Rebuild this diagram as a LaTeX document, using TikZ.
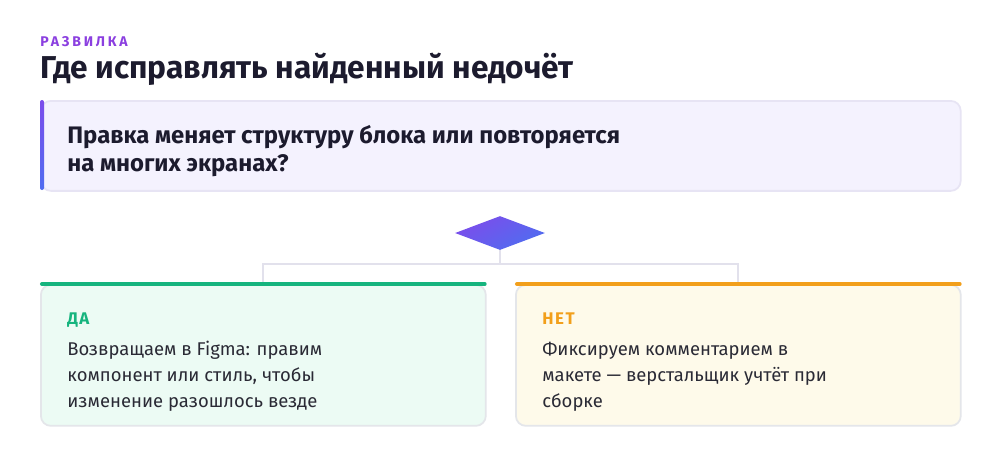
\documentclass[tikz,border=0pt]{standalone}
\usepackage{fontspec}
\setmainfont{Fira Sans}
\usetikzlibrary{calc,positioning,shapes.geometric,shadings}
\definecolor{kickc}{HTML}{8B3FE0}
\definecolor{inkc}{HTML}{1C1B2E}
\definecolor{bodyc}{HTML}{2A2A35}
\definecolor{qfillc}{HTML}{F4F2FE}
\definecolor{qlinec}{HTML}{E7E4F4}
\definecolor{topc}{HTML}{7C4DEB}
\definecolor{botc}{HTML}{4F6DF0}
\definecolor{yesc}{HTML}{16B47E}
\definecolor{yesfillc}{HTML}{ECFBF4}
\definecolor{noc}{HTML}{F29F1B}
\definecolor{nofillc}{HTML}{FEFAEA}
\definecolor{cardlinec}{HTML}{E4E6EA}
\definecolor{wirec}{HTML}{E2E1EC}
\tikzset{
	card/.style={draw=cardlinec, line width=1pt, rounded corners=0.2cm, anchor=north west, minimum width=8.9cm, minimum height=2.82cm, inner sep=0},
	tag/.style={anchor=base west, inner sep=0, font=\bfseries\fontsize{9.6}{11}\selectfont\addfontfeatures{LetterSpace=9}},
	body/.style={anchor=base west, inner sep=0, align=left, text=bodyc, font=\fontsize{10.5}{14.6}\selectfont},
	wire/.style={draw=wirec, line width=1.1pt},
	stripe/.style={line width=2.3pt, line cap=round, shorten <=0.04cm, shorten >=0.04cm}
}
\begin{document}
\begin{tikzpicture}[x=0.02cm,y=-0.02cm]
	\useasboundingbox (0,0) rectangle (1000,458);
	\fill [white] (0,0) rectangle (1000,458);
	\node [anchor=base west, inner sep=0, text=kickc, font=\bfseries\fontsize{8}{9}\selectfont\addfontfeatures{LetterSpace=20}] (kicker) at (40,46) {РАЗВИЛКА};
	\node [anchor=base west, inner sep=0, text=inkc, font=\bfseries\fontsize{18}{21}\selectfont] (title) at (40,78) {Где исправлять найденный недочёт};
	\node [draw=qlinec, fill=qfillc, line width=1pt, rounded corners=0.2cm, anchor=north west, minimum width=18.4cm, minimum height=1.8cm, inner sep=0] (quest) at (40,100) {};
	\shade [top color=topc, bottom color=botc, rounded corners=0.04cm] (40,100) rectangle (44,190);
	\node [anchor=base west, inner sep=0, align=left, text=inkc, font=\bfseries\fontsize{13.6}{15.9}\selectfont] (qtext) at (67,171) {Правка меняет структуру блока или повторяется\\на многих экранах?};
	\node [diamond, shading=axis, top color=topc, bottom color=botc, shading angle=30, minimum width=1.8cm, minimum height=0.68cm, inner sep=0] (fork) at (500,233) {};
	\node [card, fill=yesfillc] (yes) at (40,284) {};
	\node [card, fill=nofillc] (no) at (515,284) {};
	\coordinate (split) at (500,264);
	\draw [wire] (fork.south)--(split);
	\draw [wire] (split)-|(yes.north);
	\draw [wire] (split)-|(no.north);
	\draw [stripe] [draw=yesc] (yes.north west)--(yes.north east);
	\draw [stripe] [draw=noc] (no.north west)--(no.north east);
	\node [tag, text=yesc] (yeslabel) at (67,324) {ДА};
	\node [body] (yestext) at (67,407) {Возвращаем в Figma: правим\\компонент или стиль, чтобы\\изменение разошлось везде};
	\node [tag, text=noc] (nolabel) at (542,324) {НЕТ};
	\node [body] (notext) at (542,407) {Фиксируем комментарием в\\макете — верстальщик учтёт при\\сборке};
\end{tikzpicture}
\end{document}
